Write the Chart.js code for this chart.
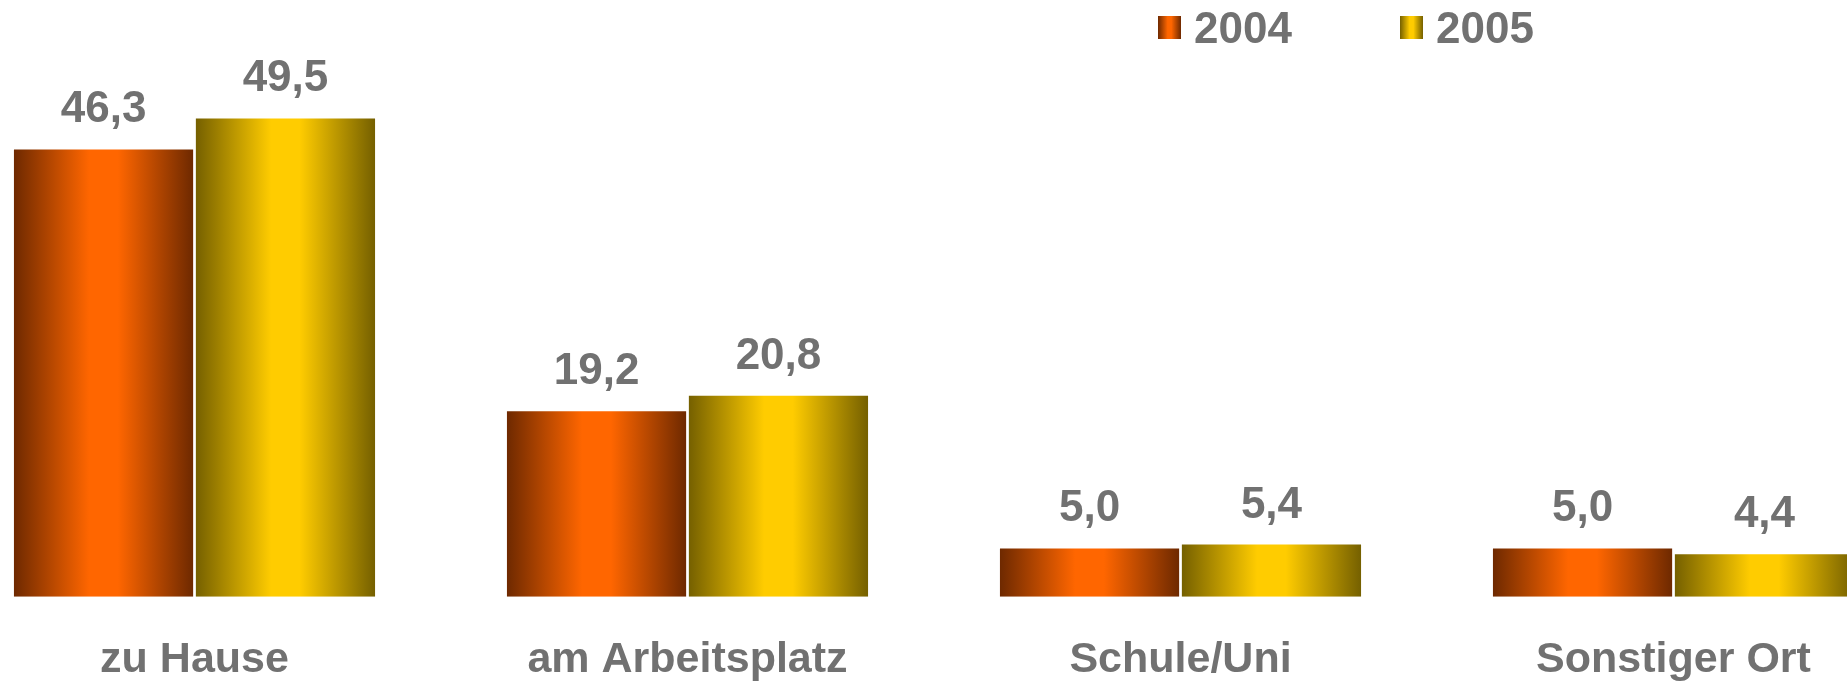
<!DOCTYPE html>
<html>
<head>
<meta charset="utf-8">
<script src="https://cdn.jsdelivr.net/npm/chart.js@4"></script>
<style>
    html, body { margin: 0; padding: 0; background: #fff; overflow: hidden; }
    #wrap { position: relative; width: 1847px; height: 686px; overflow: hidden; }
    #chart { position: absolute; left: -52px; top: 0; }
    .leg { position: absolute; top: 6px; font: bold 44px "Liberation Sans", Arial, sans-serif; line-height: 44px; color: #717171; }
    .sw { position: absolute; top: 16px; width: 23px; height: 23px; }
</style>
</head>
<body>
<div id="wrap">
    <canvas id="chart" width="1972" height="726"></canvas>
    <div class="sw" id="sw0" style="left:1158px"></div>
    <div class="leg" id="leg0" style="left:1194px"></div>
    <div class="sw" id="sw1" style="left:1400px"></div>
    <div class="leg" id="leg1" style="left:1436px"></div>
</div>
<script>
const categories = ['zu Hause', 'am Arbeitsplatz', 'Schule/Uni', 'Sonstiger Ort'];
const years = ['2004', '2005'];
const values2004 = [46.3, 19.2, 5.0, 5.0];
const values2005 = [49.5, 20.8, 5.4, 4.4];

const grey = '#717171';
const fontFamily = '"Liberation Sans", Arial, sans-serif';
const CAT_PCT = 0.738;
const BAR_PCT = 0.985;

// dark edge / bright middle, per series
const shades = [
    ['#6e2900', '#ff6600'],
    ['#756000', '#ffcc00']
];

// legend first, so it shows even if the chart has trouble
years.forEach((y, i) => {
    document.getElementById('leg' + i).textContent = y;
    const [dark, bright] = shades[i];
    document.getElementById('sw' + i).style.background =
        `linear-gradient(to right, ${dark}, ${bright} 42%, ${bright} 58%, ${dark})`;
});

function barGradient(ctx) {
    const chart = ctx.chart;
    const xs = chart.scales.x;
    const [dark, bright] = shades[ctx.datasetIndex];
    if (!xs || ctx.type !== 'data' || !xs.width) return bright;
    const cw = xs.width / categories.length;
    const slot = cw * CAT_PCT / 2;
    const center = xs.getPixelForValue(ctx.dataIndex) + (ctx.datasetIndex === 0 ? -slot / 2 : slot / 2);
    const half = slot * BAR_PCT / 2;
    if (!isFinite(center) || !isFinite(half) || half <= 0) return bright;
    const g = chart.ctx.createLinearGradient(center - half, 0, center + half, 0);
    g.addColorStop(0, dark);
    g.addColorStop(0.42, bright);
    g.addColorStop(0.58, bright);
    g.addColorStop(1, dark);
    return g;
}

const valueLabels = {
    id: 'valueLabels',
    afterDatasetsDraw(chart) {
        const c = chart.ctx;
        c.save();
        c.font = 'bold 44px ' + fontFamily;
        c.fillStyle = grey;
        c.textAlign = 'center';
        c.textBaseline = 'alphabetic';
        chart.data.datasets.forEach((ds, di) => {
            chart.getDatasetMeta(di).data.forEach((bar, i) => {
                const txt = ds.data[i].toFixed(1).replace('.', ',');
                c.fillText(txt, bar.x, bar.y - 27);
            });
        });
        c.restore();
    }
};

const ctx = document.getElementById('chart').getContext('2d');
new Chart(ctx, {
    type: 'bar',
    data: {
        labels: categories,
        datasets: [
            { label: years[0], data: values2004, backgroundColor: barGradient, borderWidth: 0 },
            { label: years[1], data: values2005, backgroundColor: barGradient, borderWidth: 0 }
        ]
    },
    options: {
        responsive: false,
        animation: false,
        categoryPercentage: CAT_PCT,
        barPercentage: BAR_PCT,
        layout: { padding: { top: 17, bottom: 1.6, left: 0, right: 0 } },
        plugins: {
            legend: { display: false },
            tooltip: { enabled: false }
        },
        scales: {
            x: {
                grid: { display: false, drawTicks: false },
                border: { display: false },
                ticks: {
                    color: grey,
                    padding: 38,
                    autoSkip: false,
                    maxRotation: 0,
                    font: { family: fontFamily, size: 43, weight: 'bold', lineHeight: 1.2 }
                }
            },
            y: {
                display: false,
                min: 0,
                max: 60
            }
        }
    },
    plugins: [valueLabels]
});
</script>
</body>
</html>
